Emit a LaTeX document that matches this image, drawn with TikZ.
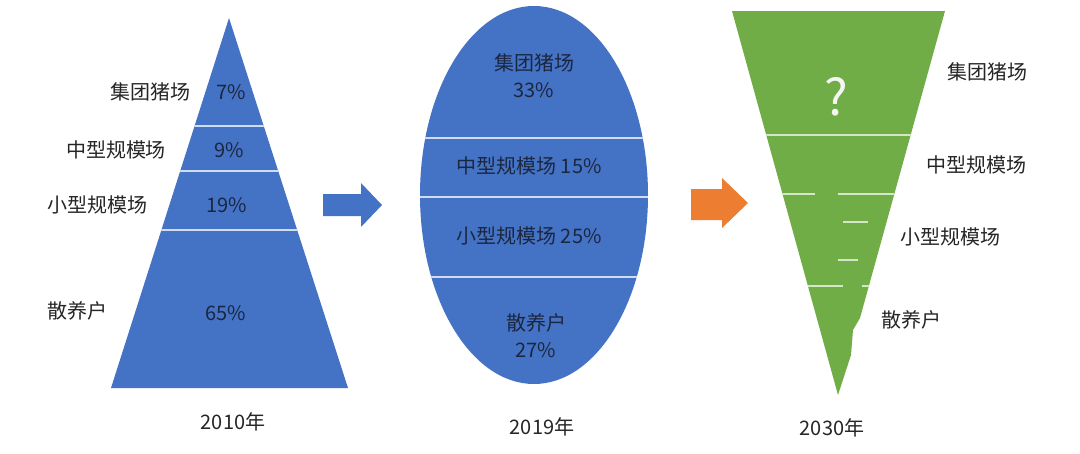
\documentclass[tikz,border=0pt]{standalone}
\usepackage{fontspec}
\setmainfont{Noto Sans CJK SC}
\usetikzlibrary{positioning}
\definecolor{pyrblue}{HTML}{4472C4}
\definecolor{funnelgreen}{HTML}{70AD47}
\definecolor{arroworange}{HTML}{ED7D31}
\definecolor{darktext}{HTML}{1B2740}
\definecolor{graytext}{HTML}{262626}
\tikzstyle{inner} = [text=darktext, font=\fontsize{20}{27}\selectfont, align=center, inner sep=0pt]
\tikzstyle{outer} = [text=graytext, font=\fontsize{20}{27}\selectfont, inner sep=0pt]
\tikzstyle{bluediv} = [draw=white!75!pyrblue, line width=1.5pt]
\tikzstyle{greendiv} = [draw=white!70!funnelgreen, line width=1.5pt]

\begin{document}
\begin{tikzpicture}[x=1pt, y=-1pt]
	\useasboundingbox[fill=white] (0,0) rectangle (1080,453);
	% 2010 pyramid
	\begin{scope}
		\path[clip] (229,18) -- (348,388) -- (111,388) -- cycle;
		\fill[pyrblue] (100,10) rectangle (360,400);
		\foreach \y in {126,171,230}
			\draw[bluediv] (100,\y) -- (360,\y);
	\end{scope}
	\node (grp1) [outer] at (150,92) {集团猪场};
	\node (mid1) [outer] at (116,150) {中型规模场};
	\node (sml1) [outer] at (97,205) {小型规模场};
	\node (frm1) [outer] at (77,311) {散养户};
	\node (pgrp1) [inner] at (231,92) {7\%};
	\node (pmid1) [inner] at (229,150) {9\%};
	\node (psml1) [inner] at (227,205) {19\%};
	\node (pfrm1) [inner] at (226,313) {65\%};
	\node (yr1) [outer] at (233,422) {2010年};
	% arrow 1
	\fill[pyrblue] (323,194) -- (361,194) -- (361,183) -- (382,205) -- (361,227) -- (361,216) -- (323,216) -- cycle;
	% 2019 oval
	\begin{scope}
		\path[clip] (534,195) ellipse [x radius=114pt, y radius=189pt];
		\fill[pyrblue] (410,0) rectangle (660,400);
		\foreach \y in {138,197,277}
			\draw[bluediv] (410,\y) -- (660,\y);
	\end{scope}
	\node (grp2) [inner] at (534,76) {集团猪场\\33\%};
	\node (mid2) [inner] at (529,166) {中型规模场 15\%};
	\node (sml2) [inner] at (529,236) {小型规模场 25\%};
	\node (frm2) [inner] at (536,336) {散养户\\27\%};
	\node (yr2) [outer] at (542,427) {2019年};
	% arrow 2
	\fill[arroworange] (691,189) -- (722,189) -- (722,178) -- (748,203) -- (722,228) -- (722,220) -- (691,220) -- cycle;
	% 2030 funnel
	\begin{scope}
		\path[clip] (732,11) -- (945,11) -- (860,318) -- (853,330) -- (851,355) -- (838,395) -- cycle;
		\fill[funnelgreen] (720,0) rectangle (960,400);
		\draw[greendiv] (740,135) -- (940,135);
		\draw[greendiv] (740,194) -- (815,194) (838,194) -- (940,194);
		\draw[greendiv] (843,222) -- (868,222);
		\draw[greendiv] (838,260) -- (858,260);
		\draw[greendiv] (808,286) -- (843,286) (862,286) -- (870,286);
	\end{scope}
	\node (ques) [text=white!92!gray, font=\fontsize{50}{50}\selectfont, inner sep=0pt] at (836,97) {?};
	\node (grp3) [outer] at (987,72) {集团猪场};
	\node (mid3) [outer] at (976,165) {中型规模场};
	\node (sml3) [outer] at (950,237) {小型规模场};
	\node (frm3) [outer] at (911,320) {散养户};
	\node (yr3) [outer] at (832,428) {2030年};
\end{tikzpicture}
\end{document}
